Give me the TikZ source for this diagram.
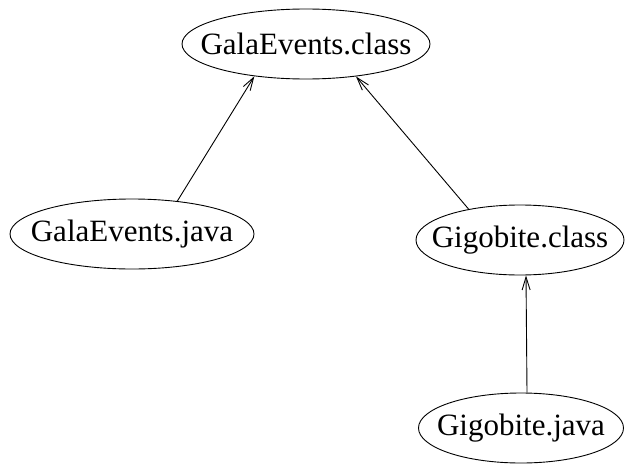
\documentclass[tikz,border=0pt]{standalone}
\usepackage{fontspec}
\setmainfont{Liberation Serif}
\usepackage{tikz}
\usetikzlibrary{shapes.geometric, arrows.meta}

\begin{document}
\begin{tikzpicture}[>={Straight Barb[length=13pt,width=8pt]}, x=1pt, y=-1pt, line width=0.9pt]
                \tikzset{archivo/.style={ellipse, draw, inner xsep=-60pt, inner ysep=-15pt, minimum height=70pt, font=\fontsize{31}{36}\selectfont}}
                \useasboundingbox (0,0) rectangle (628,463);
                % class
                \node[archivo, minimum width=248pt] (gec) at (306,44) {GalaEvents.class};
                \node[archivo, minimum width=208pt] (gic) at (520,240) {Gigobite.class};
                % java
                \node[archivo, minimum width=244pt] (gej) at (132,234) {GalaEvents.java};
                \node[archivo, minimum width=205pt] (gij) at (521,428) {Gigobite.java};
                % dependencias
                \draw[->] (gej.36) -- (gec.212);
                \draw[->] (gic.149) -- (gec.327);
                \draw[->] ([xshift=6pt]gij.north) -- ([xshift=6pt]gic.south);
            \end{tikzpicture}
\end{document}
